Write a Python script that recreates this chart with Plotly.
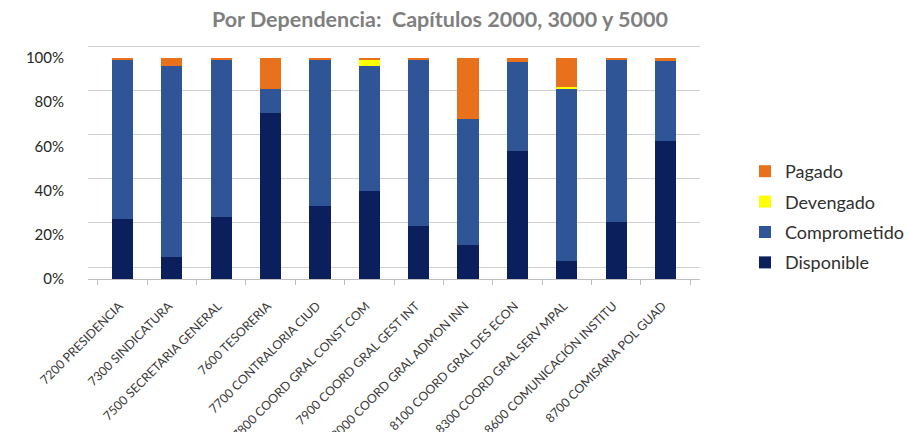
import plotly.graph_objects as go

categories = ["7200 PRESIDENCIA", "7300 SINDICATURA", "7500 SECRETARIA GENERAL", "7600 TESORERIA",
              "7700 CONTRALORIA CIUD", "7800 COORD GRAL CONST COM", "7900 COORD GRAL GEST INT",
              "8000 COORD GRAL ADMON INN", "8100 COORD GRAL DES ECON", "8300 COORD GRAL SERV MPAL",
              "8600 COMUNICACIÓN INSTITU", "8700 COMISARIA POL GUAD"]
disponible = [27, 10, 28, 75, 33, 40, 24, 15.5, 58, 8, 26, 62.5]
comprometido = [72, 86.5, 71, 11, 66, 56.5, 75.5, 57, 40, 78, 73.5, 36]
devengado = [0, 0, 0, 0, 0, 2.5, 0, 0, 0, 0.7, 0, 0]
pagado = [1, 3.5, 1, 14, 1, 1, 0.5, 27.5, 2, 13.3, 0.5, 1.5]
y_ticks = [0, 20, 40, 60, 80, 100]
y_labels = ["0%", "20%", "40%", "60%", "80%", "100%"]

series = [("Disponible", disponible, "#0B1F5C", 4),
          ("Comprometido", comprometido, "#2F5597", 3),
          ("Devengado", devengado, "#FFFF00", 2),
          ("Pagado", pagado, "#E9711C", 1)]

fig = go.Figure()
# invisible helper on the back-wall axis so its gridlines are drawn
fig.add_trace(go.Scatter(x=categories, y=disponible, yaxis="y", mode="markers",
                         marker=dict(opacity=0), showlegend=False, hoverinfo="skip"))
for name, vals, col, rank in series:
    fig.add_trace(go.Bar(x=categories, y=vals, name=name, legendgroup=name, legendrank=rank,
                         yaxis="y2", marker=dict(color=col, line=dict(width=0))))

fig.update_layout(
    barmode="stack", bargap=0.57,
    width=908, height=432,
    margin=dict(l=88, r=208, t=45, b=153, autoexpand=False),
    paper_bgcolor="white", plot_bgcolor="white",
    title=dict(text="<b>Por Dependencia:  Capítulos 2000, 3000 y 5000</b>", x=0.4845, xanchor="center",
               y=0.955, yanchor="middle", automargin=False,
               font=dict(family="Lato", size=21.5, color="#7F7F7F")),
    legend=dict(x=1.0735, y=0.265, xanchor="left", yanchor="middle", traceorder="grouped",
                font=dict(family="Lato", size=18, color="#303030"), itemwidth=30, tracegroupgap=4),
    xaxis=dict(tickangle=-45, tickfont=dict(family="Lato", size=12.4, color="#3A3A3A"),
               automargin=False, showline=True, linecolor="#BFBFBF", ticks="outside",
               tickson="boundaries", tickcolor="#BFBFBF", ticklen=5,
               ticklabelshift=-3, ticklabelstandoff=14),
    yaxis=dict(range=[-5.4, 100.5], tickvals=y_ticks, showticklabels=False,
               showgrid=True, gridcolor="#D0D0D0", gridwidth=1.3,
               zeroline=False, ticks="", automargin=False),
    yaxis2=dict(range=[0, 105.9], overlaying="y", side="left", tickvals=y_ticks, ticktext=y_labels,
                automargin=False, tickfont=dict(family="Lato", size=15, color="#262626"),
                showgrid=False, zeroline=False, ticks="", ticklabelstandoff=23),
)
fig.write_html("out.html", post_script="document.body.style.margin='0';",
               config={"displayModeBar": False})
